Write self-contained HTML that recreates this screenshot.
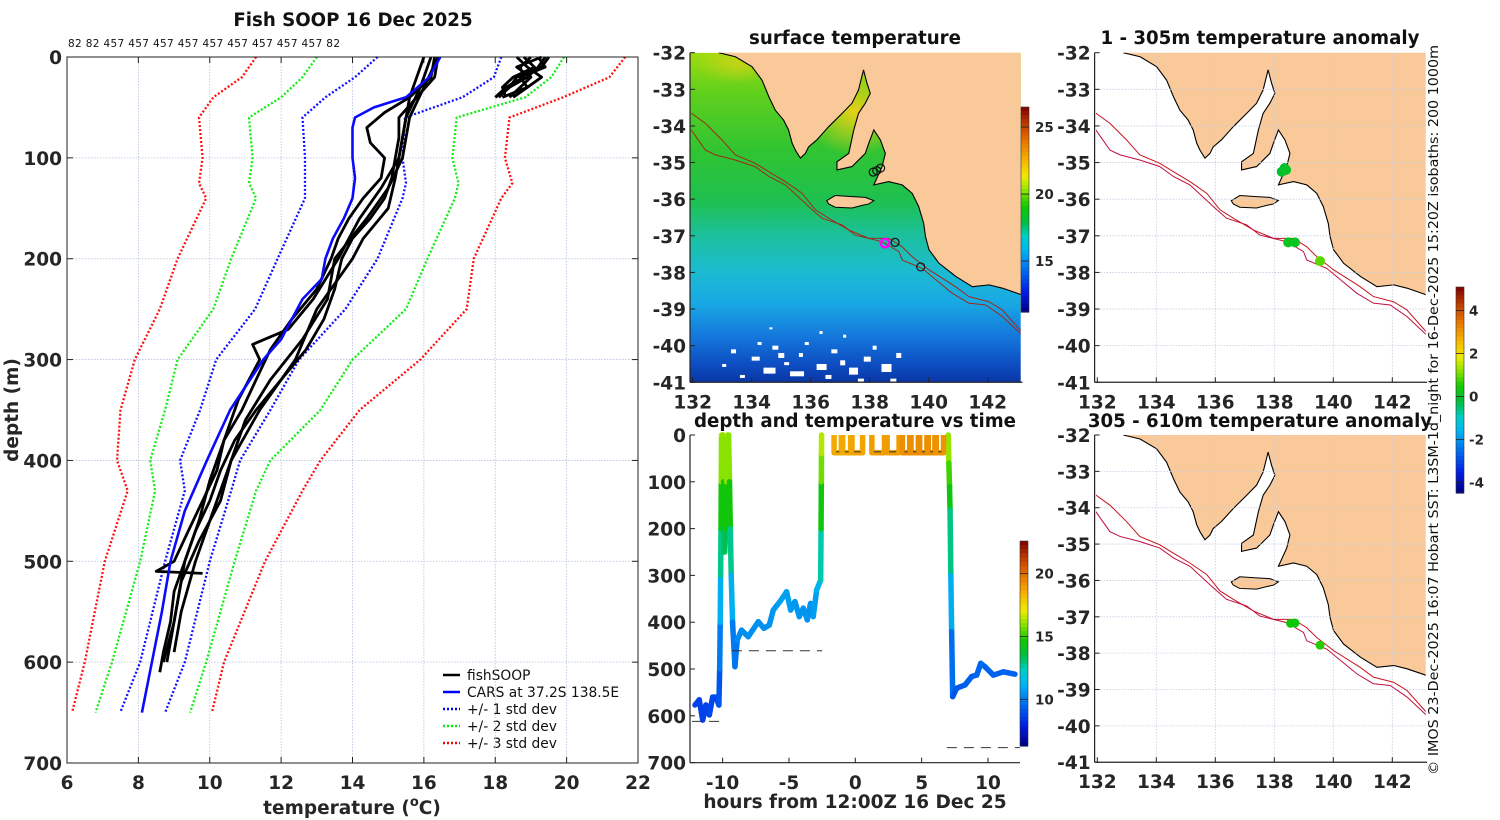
<!DOCTYPE html>
<html><head><meta charset="utf-8">
<style>
html,body{margin:0;padding:0;background:#fff;}
svg{display:block;font-family:"DejaVu Sans","Liberation Sans",sans-serif;}
.tk{font-weight:bold;font-size:18.5px;fill:#262626;}
.tt{font-weight:bold;font-size:18.2px;fill:#111;}
.cb{font-weight:bold;font-size:13.5px;fill:#262626;}
.lg{font-size:13.8px;fill:#111;}
</style></head>
<body>
<svg id="fig" width="1500" height="820" viewBox="0 0 1500 820">
<defs>
<linearGradient id="sstGrad" x1="0" y1="0" x2="0" y2="1">
<stop offset="0" stop-color="#a0dc10"/><stop offset="0.12" stop-color="#60d01c"/>
<stop offset="0.3" stop-color="#30c432"/><stop offset="0.45" stop-color="#1ec050"/>
<stop offset="0.55" stop-color="#1cc09a"/><stop offset="0.66" stop-color="#1cbcd0"/>
<stop offset="0.76" stop-color="#18a8e4"/><stop offset="0.86" stop-color="#1478dc"/>
<stop offset="0.94" stop-color="#0e50c4"/><stop offset="1" stop-color="#0a36a6"/>
</linearGradient>
<radialGradient id="gulfGrad" cx="0.5" cy="0.5" r="0.5">
<stop offset="0" stop-color="#e8d018"/><stop offset="1" stop-color="#e8d018" stop-opacity="0"/>
</radialGradient>
<clipPath id="clip1"><rect x="690" y="52.7" width="330.7" height="329.6"/></clipPath>
<clipPath id="clip3"><rect x="1096" y="52.7" width="329.7" height="329.6"/></clipPath>
<clipPath id="clip4"><rect x="1096" y="435" width="329.7" height="327.3"/></clipPath>
</defs>
<text class="tt" x="353" y="26" text-anchor="middle">Fish SOOP 16 Dec 2025</text>
<text x="68" y="47" font-size="10.5" fill="#111" textLength="272">82 82 457 457 457 457 457 457 457 457 457 82</text>
<text class="tt" x="855" y="44" text-anchor="middle">surface temperature</text>
<text class="tt" x="1260" y="44" text-anchor="middle">1 - 305m temperature anomaly</text>
<text class="tt" x="855" y="427" text-anchor="middle">depth and temperature vs time</text>
<text class="tt" x="1260" y="427" text-anchor="middle">305 - 610m temperature anomaly</text>
<text class="tk" x="352" y="814" text-anchor="middle">temperature (<tspan font-size="13" dy="-8">o</tspan><tspan dy="8">C)</tspan></text>
<text class="tk" x="18" y="410" text-anchor="middle" transform="rotate(-90 18 410)">depth (m)</text>
<text class="tk" x="855" y="808" text-anchor="middle">hours from 12:00Z 16 Dec 25</text>
<text x="1438" y="410" font-size="13" fill="#111" text-anchor="middle" textLength="730" lengthAdjust="spacingAndGlyphs" transform="rotate(-90 1438 410)">© IMOS 23-Dec-2025 16:07 Hobart SST: L3SM-1d_night for 16-Dec-2025 15:20Z isobaths: 200  1000m</text>
<g id="legend">
<line x1="443" y1="675" x2="460" y2="675" stroke="#000" stroke-width="2.5"/>
<text class="lg" x="467" y="680">fishSOOP</text>
<line x1="443" y1="692" x2="460" y2="692" stroke="#0000ff" stroke-width="2.5"/>
<text class="lg" x="467" y="697">CARS at 37.2S 138.5E</text>
<line x1="443" y1="709" x2="460" y2="709" stroke="#0000ff" stroke-width="2.5" stroke-dasharray="2,2"/>
<text class="lg" x="467" y="714">+/- 1 std dev</text>
<line x1="443" y1="726" x2="460" y2="726" stroke="#00ee00" stroke-width="2.5" stroke-dasharray="2,2"/>
<text class="lg" x="467" y="731">+/- 2 std dev</text>
<line x1="443" y1="743" x2="460" y2="743" stroke="#ff0000" stroke-width="2.5" stroke-dasharray="2,2"/>
<text class="lg" x="467" y="748">+/- 3 std dev</text>
</g>
</svg>
<script>
// ---------- profile data ----------
const stdDepths = [0,20,40,60,100,125,140,200,250,300,350,400,430,500,600,650];
const red1Lo  = [11.3,10.9,10.1,9.7,9.8,9.7,9.9,9.1,8.6,7.9,7.5,7.4,7.7,7.06,6.5,6.14];
const green2Lo= [13.0,12.6,12.0,11.1,11.2,11.1,11.3,10.6,10.1,9.1,8.75,8.33,8.47,8.05,7.26,6.8];
const blue1Lo = [14.7,14.07,13.24,12.6,12.67,12.67,12.67,11.9,11.27,10.18,9.73,9.17,9.3,8.75,8.05,7.49];
const blue1Hi = [18.17,17.96,17.08,15.47,15.4,15.5,15.4,14.7,13.8,12.5,11.7,10.85,10.6,10.0,9.3,8.75];
const green2Hi= [19.93,19.57,18.84,16.92,16.8,16.97,16.87,16.1,15.5,14.0,13.1,11.7,11.3,10.7,9.9,9.45];
const red3Hi  = [21.64,21.2,19.9,18.4,18.27,18.48,18.17,17.4,17.2,15.9,14.2,13.1,12.6,11.55,10.4,10.06];
const carsDepths = [0,20,40,50,60,70,100,120,140,160,180,200,220,240,260,280,300,350,400,450,500,550,600,650];
const carsTemps  = [16.46,16.15,15.5,14.6,14.07,14.0,14.0,14.07,14.0,13.76,13.45,13.24,13.14,12.6,12.3,12.0,11.5,10.57,9.92,9.3,8.9,8.66,8.38,8.1];
const fishDepths1 = [0,20,40,60,80,100,120,140,160,180,200,230,260,290,320,350,380,410,440,470,500,530,560,590,610];
const fishTemps1  = [16.4,16.3,15.8,15.3,15.3,15.2,15.1,14.9,14.5,14.0,13.7,13.5,13.2,12.7,12.0,11.3,10.7,10.3,10.0,9.6,9.3,9.0,8.9,8.7,8.6];
const fishDepths2 = [0,20,40,55,70,85,100,120,140,160,180,200,230,260,290,320,350,380,410,440,470,500,510,512];
const fishTemps2  = [16.3,16.2,15.6,14.9,14.4,14.5,14.9,14.8,14.3,13.9,13.6,13.4,13.0,12.3,11.7,11.3,10.9,10.4,10.2,9.8,9.4,9.0,8.5,9.8];
const fishDepths3 = [0,30,60,100,130,160,200,240,270,285,300,340,380,420,460,500,540,580,600];
const fishTemps3  = [16.2,15.9,15.5,15.3,14.8,14.2,13.6,12.9,12.2,11.2,11.4,10.8,10.4,10.0,9.7,9.3,9.1,8.9,8.8];
const fishDepths4 = [0,30,60,100,130,160,200,240,280,320,360,400,440,480,520,560,600];
const fishTemps4  = [16.4,16.0,15.6,15.4,15.0,14.4,13.5,13.3,12.6,11.7,11.0,10.6,10.3,9.7,9.2,9.0,8.7];
const fishDepths5 = [0,40,80,120,150,180,200,250,300,350,400,450,500,550,590];
const fishTemps5  = [16.0,15.6,15.4,15.2,15.0,14.3,14.0,13.0,12.4,11.4,10.6,10.1,9.6,9.2,9.0];
const surfDepths = [0,10,20,30,40];
const surfTemps1 = [19.4,19.2,18.9,18.4,18.0];
const surfTemps2 = [19.0,18.7,18.8,18.3,18.0];
const surfTemps3 = [19.5,19.3,18.6,18.4,18.1];
const surfTemps4 = [18.8,19.1,18.5,18.2,18.3];
const surfTemps5 = [19.3,18.6,19.0,18.7,18.4];
const surfTemps6 = [18.6,18.9,19.3,18.9,18.5];
const surfTemps7 = [19.2,19.4,18.7,18.9,18.2];
const tempTicks = [6,8,10,12,14,16,18,20,22];
const depthTicks = [0,100,200,300,400,500,600,700];
// ---------- time panel data ----------
const trHours = [-12.08,-11.76,-11.5,-11.26,-11.0,-10.75,-10.5,-10.28,-10.22,-10.18,-10.15,-10.12,-10.1,-10.08,-9.98,-9.92,-9.9,-9.85,-9.75,-9.7,-9.62,-9.55,-9.48,-9.42,-9.35,-9.25,-9.07,-8.9,-8.57,-8.07,-7.31,-6.88,-6.48,-6.18,-5.68,-5.18,-4.87,-4.55,-4.22,-3.92,-3.62,-3.37,-3.17,-2.91,-2.61,-2.58,-2.56,-2.55,-2.54];
const trDepths= [577,566,609,577,598,560,560,577,500,400,300,200,100,0,0,100,200,250,200,100,0,0,100,200,300,400,495,438,417,431,399,413,406,374,356,335,374,356,388,370,395,360,388,331,310,200,100,40,0];
const trTemps = [8.8,8.8,8.6,8.8,8.7,8.9,8.9,8.8,9.5,10.4,11.8,13.8,15.3,16.6,16.6,15.3,13.8,12.8,13.8,15.3,16.6,16.6,15.3,13.8,11.8,10.4,9.5,10.2,10.4,10.3,10.5,10.4,10.4,10.6,10.7,10.9,10.6,10.7,10.4,10.6,10.4,10.6,10.4,11.0,11.3,13.8,15.2,16.2,16.6];
const tr2Hours = [7.0,7.05,7.1,7.14,7.2,7.26,7.34,7.64,8.27,8.77,9.15,9.45,9.77,10.4,11.16,12.03];
const tr2Depths= [0,60,110,160,300,420,559,541,534,516,513,488,495,513,506,511];
const tr2Temps = [16.5,15.6,14.8,14.0,11.8,10.3,9.1,9.2,9.3,9.4,9.4,9.6,9.5,9.4,9.4,9.4];
const yoStart = [-1.6,-0.95,-0.25,1.25,2.4,3.55,4.2,4.85,5.5,6.1];
const yoEnd   = [-1.05,-0.35,0.55,2.2,3.3,4.1,4.75,5.4,6.0,6.65];
const yoTemp  = [18.6,18.6,18.7,18.9,18.9,19.2,19.2,19.3,19.2,19.1];
const bottomDashHours = [[-12.3,-10.0],[-9.3,-2.5],[6.9,12.4]];
const bottomDashDepths = [612,461,668];
const timeTicks = [-10,-5,0,5,10];
// ---------- map data ----------
const latTicks = [-32,-33,-34,-35,-36,-37,-38,-39,-40,-41];
const lonTicks = [132,134,136,138,140,142];
const sstTicks = [25,20,15];
const tempTicks2 = [20,15,10];
const anomTicks = [4,2,0,-2,-4];
const circleLons = [138.12,138.24,138.37,138.86,139.73];
const circleLats = [-35.26,-35.22,-35.15,-37.18,-37.85];
const currentLon = 138.52, currentLat = -37.2;
const anomLons1 = [138.25,138.35,138.4,138.47,138.7,139.55];
const anomLats1 = [-35.25,-35.15,-35.2,-37.18,-37.18,-37.69];
const anomVals1 = [-0.1,-0.1,0.0,0.1,0.1,0.9];
const anomLons2 = [138.55,138.7,139.55];
const anomLats2 = [-37.18,-37.17,-37.78];
const anomVals2 = [0.4,0.3,0.6];

const NS='http://www.w3.org/2000/svg';
const svg=document.getElementById('fig');
function mk(tag,parent,attrs){const e=document.createElementNS(NS,tag);for(const k in attrs)e.setAttribute(k,attrs[k]);parent.appendChild(e);return e;}
const CM=[[0,0,0,128],[0.1,0,30,230],[0.22,0,120,240],[0.3,0,180,240],[0.37,0,205,200],[0.44,0,190,60],[0.52,20,200,0],[0.6,150,230,0],[0.66,240,235,0],[0.74,245,180,0],[0.84,230,110,0],[0.93,180,50,0],[1,128,0,0]];
function jet(x){x=Math.max(0,Math.min(1,x));for(let i=0;i<CM.length-1;i++){const a=CM[i],b=CM[i+1];if(x<=b[0]){const f=(x-a[0])/(b[0]-a[0]);return 'rgb('+[1,2,3].map(k=>Math.round(a[k]+(b[k]-a[k])*f)).join(',')+')';}}return 'rgb(128,0,0)';}

// ===== Profile panel =====
const PX0=67,PX1=638,PY0=57,PY1=763;
const px=t=>PX0+(t-6)*(PX1-PX0)/16;
const py=d=>PY0+d*(PY1-PY0)/700;
const gP=mk('g',svg,{});


tempTicks.forEach(t=>{
  if(t>6&&t<22){const l=mk('line',gP,{x1:px(t),x2:px(t),y1:PY0,y2:PY1,stroke:'#b4c0dc','stroke-width':0.8,'stroke-dasharray':'1.5,1.5'});
  
  }
  const tk=mk('text',gP,{x:px(t),y:PY1+26,'text-anchor':'middle',class:'tk'});tk.textContent=t;
  
  
  mk('line',gP,{x1:px(t),x2:px(t),y1:PY1,y2:PY1-6,stroke:'#222'});
  mk('line',gP,{x1:px(t),x2:px(t),y1:PY0,y2:PY0+6,stroke:'#222'});
});
depthTicks.forEach(d=>{
  if(d>0&&d<700){const l=mk('line',gP,{x1:PX0,x2:PX1,y1:py(d),y2:py(d),stroke:'#b4c0dc','stroke-width':0.8,'stroke-dasharray':'1.5,1.5'});
  
  }
  const tk=mk('text',gP,{x:PX0-5,y:py(d)+7,'text-anchor':'end',class:'tk'});tk.textContent=d;
  
  
  mk('line',gP,{x1:PX0,x2:PX0+6,y1:py(d),y2:py(d),stroke:'#222'});
  mk('line',gP,{x1:PX1,x2:PX1-6,y1:py(d),y2:py(d),stroke:'#222'});
});
function prof(depths,temps,color,w,dash,name){
  const pts=depths.map((d,i)=>px(temps[i]).toFixed(1)+','+py(d).toFixed(1)).join(' ');
  const a={points:pts,fill:'none',stroke:color,'stroke-width':w,'stroke-linejoin':'round'};
  if(dash)a['stroke-dasharray']=dash;
  const p=mk('polyline',gP,a);
  
  
}
prof(stdDepths,red1Lo,'#ff1010',2.3,'2,2','minus-3std-line');
prof(stdDepths,green2Lo,'#10ee10',2.3,'2,2','minus-2std-line');
prof(stdDepths,blue1Lo,'#1010ff',2.3,'2,2','minus-1std-line');
prof(stdDepths,blue1Hi,'#1010ff',2.3,'2,2','plus-1std-line');
prof(stdDepths,green2Hi,'#10ee10',2.3,'2,2','plus-2std-line');
prof(stdDepths,red3Hi,'#ff1010',2.3,'2,2','plus-3std-line');
prof(fishDepths1,fishTemps1,'#000',2.8,null,'fishsoop-profile');
prof(fishDepths2,fishTemps2,'#000',2.8,null,'fishsoop-profile');
prof(fishDepths3,fishTemps3,'#000',2.8,null,'fishsoop-profile');
prof(fishDepths4,fishTemps4,'#000',2.8,null,'fishsoop-profile');
prof(fishDepths5,fishTemps5,'#000',2.8,null,'fishsoop-profile');
[surfTemps1,surfTemps2,surfTemps3,surfTemps4,surfTemps5,surfTemps6,surfTemps7].forEach(s=>prof(surfDepths,s,'#000',2.8,null,'fishsoop-surface-profile'));
prof(carsDepths,carsTemps,'#0a0aff',2.6,null,'cars-profile');
const fr=mk('rect',gP,{x:PX0,y:PY0,width:PX1-PX0,height:PY1-PY0,fill:'none',stroke:'#222','stroke-width':1});



// ===== Maps =====
const coastLL=[[132.88,-32],[133.45,-32.11],[134.01,-32.38],[134.35,-32.75],[134.58,-33.2],[134.8,-33.57],[135.08,-33.84],[135.25,-34.11],[135.37,-34.47],[135.48,-34.66],[135.65,-34.88],[135.82,-34.75],[135.93,-34.57],[136.21,-34.38],[136.61,-34.02],[137.06,-33.66],[137.4,-33.38],[137.62,-33.02],[137.79,-32.47],[137.91,-32.84],[138.02,-33.11],[137.85,-33.38],[137.62,-33.66],[137.46,-34.11],[137.29,-34.75],[136.89,-34.98],[136.89,-35.2],[137.4,-35.11],[137.85,-34.75],[137.97,-34.47],[138.14,-34.11],[138.36,-34.38],[138.53,-34.75],[138.42,-35.11],[138.14,-35.61],[138.65,-35.52],[139.1,-35.61],[139.44,-35.84],[139.66,-36.2],[139.83,-36.66],[139.89,-37.02],[140.01,-37.38],[140.35,-37.75],[140.92,-38.11],[141.48,-38.39],[142.05,-38.34],[142.5,-38.43],[143.15,-38.61]];
const kiLL=[[136.54,-36.04],[136.83,-35.9],[137.4,-35.93],[137.85,-35.95],[138.14,-36.04],[137.97,-36.13],[137.74,-36.17],[137.4,-36.24],[136.83,-36.22],[136.61,-36.13]];
const iso1LL=[[131.95,-33.65],[132.43,-33.93],[132.99,-34.38],[133.44,-34.79],[134.12,-35.02],[134.58,-35.25],[135.14,-35.52],[135.71,-35.84],[136.16,-36.29],[136.61,-36.52],[137.29,-36.84],[137.97,-37.07],[138.65,-37.07],[139.1,-37.3],[139.44,-37.57],[140.01,-37.93],[140.91,-38.39],[141.36,-38.66],[142.04,-38.8],[142.49,-39.02],[143.15,-39.62]];
const iso2LL=[[131.95,-34.11],[132.43,-34.66],[132.77,-34.79],[133.44,-34.93],[134.12,-35.11],[134.58,-35.38],[135.14,-35.61],[135.93,-36.2],[136.38,-36.52],[137.06,-36.7],[137.51,-36.98],[138.42,-37.16],[138.99,-37.43],[139.1,-37.66],[139.78,-37.89],[140.8,-38.57],[141.36,-38.84],[141.93,-38.89],[142.49,-39.2],[143.15,-39.7]];
function makeMap(name,x0,y0,ky,clipId,sst){
  const kx=29.5;
  const X=l=>x0+(l-132)*kx, Y=a=>y0+(-32-a)*ky;
  const bot=y0+9*ky, right=x0+11.18*kx, left=x0-2.7;
  const g=mk('g',svg,{});
  
  
  const inner=mk('g',g,{'clip-path':'url(#'+clipId+')'});
  if(sst){
    const bg=mk('rect',inner,{x:left,y:y0,width:right-left,height:bot-y0,fill:'url(#sstGrad)'});
    
    
    mk('ellipse',inner,{cx:X(137.5),cy:Y(-33.6),rx:50,ry:45,fill:'url(#gulfGrad)'});
    mk('ellipse',inner,{cx:X(133.5),cy:Y(-32.3),rx:40,ry:20,fill:'url(#gulfGrad)',opacity:0.6});
    const speck=[[133.0,-40.5,4,3],[133.3,-40.1,5,4],[133.6,-40.8,5,3],[134.0,-40.3,8,4],[134.2,-39.9,4,3],[134.4,-40.6,12,6],[134.7,-40.0,6,4],[134.9,-40.2,6,5],[135.1,-40.45,5,3],[135.3,-40.7,14,5],[135.6,-40.2,4,4],[135.8,-39.9,4,3],[136.0,-41.0,8,3],[136.2,-40.5,10,6],[136.5,-40.8,6,4],[136.7,-40.1,6,4],[137.0,-40.4,5,5],[137.1,-39.7,3,3],[137.3,-40.6,9,7],[137.6,-40.9,6,3],[137.8,-40.3,7,5],[138.1,-40.0,4,4],[138.4,-40.5,10,8],[138.7,-40.9,6,3],[138.9,-40.2,5,5],[133.2,-41.0,6,3],[134.6,-39.5,3,2],[136.3,-39.6,3,3]];
    speck.forEach(s=>mk('rect',inner,{x:X(s[0]),y:Y(s[1]),width:s[2],height:s[3],fill:'#fff'}));
  }
  const landPts=coastLL.map(p=>X(p[0])+','+Y(p[1])).join(' ')+' '+(right+5)+','+(y0-5)+' '+X(132.88)+','+(y0-5);
  const land=mk('polygon',inner,{points:landPts,fill:'#f9c99a'});
  
  
  const coast=mk('polyline',inner,{points:coastLL.map(p=>X(p[0])+','+Y(p[1])).join(' '),fill:'none',stroke:'#000','stroke-width':1.1});
  
  
  const ki=mk('polygon',inner,{points:kiLL.map(p=>X(p[0])+','+Y(p[1])).join(' '),fill:'#f9c99a',stroke:'#000','stroke-width':1});
  
  
  if(!sst){
    latTicks.slice(1,9).forEach(a=>mk('line',inner,{x1:left,x2:right,y1:Y(a),y2:Y(a),stroke:'#c4cce0','stroke-width':0.8,'stroke-dasharray':'1.5,1.5'}));
    lonTicks.slice(1).forEach(l=>mk('line',inner,{x1:X(l),x2:X(l),y1:y0,y2:bot,stroke:'#c4cce0','stroke-width':0.8,'stroke-dasharray':'1.5,1.5'}));
  }
  const i1=mk('polyline',inner,{points:iso1LL.map(p=>X(p[0])+','+Y(p[1])).join(' '),fill:'none',stroke:sst?'#a02818':'#c8141e','stroke-width':1});
  
  
  const i2=mk('polyline',inner,{points:iso2LL.map(p=>X(p[0])+','+Y(p[1])).join(' '),fill:'none',stroke:sst?'#a02818':'#c01040','stroke-width':1});
  
  
  mk('line',g,{x1:left,x2:left,y1:y0,y2:bot,stroke:'#222','stroke-width':1.2});
  mk('line',g,{x1:left,x2:right,y1:bot,y2:bot,stroke:'#222','stroke-width':1.2});
  latTicks.forEach(a=>{
    mk('line',g,{x1:left,x2:left+5,y1:Y(a),y2:Y(a),stroke:'#222'});
    const t=mk('text',g,{x:left-4,y:Y(a)+7,'text-anchor':'end',class:'tk'});t.textContent=a;
    
    
  });
  lonTicks.forEach(l=>{
    mk('line',g,{x1:X(l),x2:X(l),y1:bot,y2:bot-5,stroke:'#222'});
    const t=mk('text',g,{x:X(l),y:bot+26,'text-anchor':'middle',class:'tk'});t.textContent=l;
    
    
  });
  return {g,inner,X,Y};
}
const m1=makeMap('sst-map',692.7,52.7,36.62,'clip1',true);
circleLons.forEach((l,i)=>{
  const c=mk('circle',m1.inner,{cx:m1.X(l),cy:m1.Y(circleLats[i]),r:4,fill:'none',stroke:'#111','stroke-width':1.2});
  
  
});
const cur=mk('circle',m1.inner,{cx:m1.X(currentLon),cy:m1.Y(currentLat),r:4.2,fill:'none',stroke:'#ff00ff','stroke-width':2.4});


const m3=makeMap('anomaly-map-shallow',1097.3,52.7,36.62,'clip3',false);
anomLons1.forEach((l,i)=>{
  const c=mk('circle',m3.inner,{cx:m3.X(l),cy:m3.Y(anomLats1[i]),r:5,fill:jet((anomVals1[i]+4.5)/9.6)});
  
  
});
const m4=makeMap('anomaly-map-deep',1097.3,435,36.36,'clip4',false);
anomLons2.forEach((l,i)=>{
  const c=mk('circle',m4.inner,{cx:m4.X(l),cy:m4.Y(anomLats2[i]),r:4.5,fill:jet((anomVals2[i]+4.5)/9.6)});
  
  
});

// ===== colorbars =====
function colorbar(name,x,y0,y1,vmin,vmax,ticks,labX){
  const g=mk('g',svg,{});
  
  
  const n=50,h=(y1-y0)/n;
  for(let i=0;i<n;i++){mk('rect',g,{x:x,y:y0+i*h,width:8,height:h+0.6,fill:jet(1-(i+0.5)/n)});}
  mk('rect',g,{x:x,y:y0,width:8,height:y1-y0,fill:'none',stroke:'#333','stroke-width':0.6});
  ticks.forEach(v=>{
    const yy=y1-(v-vmin)/(vmax-vmin)*(y1-y0);
    mk('line',g,{x1:x,x2:x+8,y1:yy,y2:yy,stroke:'#222','stroke-width':0.8});
    const t=mk('text',g,{x:labX,y:yy+5,class:'cb'});t.textContent=v;
    
    
  });
}
colorbar('sst-colorbar',1021,107,312,11.2,26.5,sstTicks,1035);
colorbar('time-colorbar',1020,541,746,6.3,22.6,tempTicks2,1035);
colorbar('anomaly-colorbar',1456,287,493,-4.5,5.1,anomTicks,1469);

// ===== time panel =====
const TX=h=>855.3+h*13.27, TY=d=>435+d*0.468;
const gT=mk('g',svg,{});


function trace(hs,ds,ts,name){
  for(let i=0;i<hs.length-1;i++){
    const s=mk('line',gT,{x1:TX(hs[i]),y1:TY(ds[i]),x2:TX(hs[i+1]),y2:TY(ds[i+1]),stroke:jet(((ts[i]+ts[i+1])/2-6.3)/16.3),'stroke-width':5.5,'stroke-linecap':'round'});
    
    
  }
}
trace(trHours,trDepths,trTemps,'dive-trace-segment');
trace(tr2Hours,tr2Depths,tr2Temps,'dive-trace-segment');
yoStart.forEach((s,i)=>{
  const e=yoEnd[i];
  const p=mk('polyline',gT,{points:[TX(s)+','+TY(0),TX(s)+','+TY(38),TX(e)+','+TY(38),TX(e)+','+TY(0)].join(' '),fill:'none',stroke:jet((yoTemp[i]-6.3)/16.3),'stroke-width':5.5,'stroke-linejoin':'round'});
  
  
  const dl=mk('line',gT,{x1:TX(s)+2,x2:TX(e)-2,y1:TY(36),y2:TY(36),stroke:'#333','stroke-width':1,'stroke-dasharray':'7,5'});
  
  
});
bottomDashHours.forEach((r,i)=>{
  const l=mk('line',gT,{x1:TX(r[0]),x2:TX(r[1]),y1:TY(bottomDashDepths[i]),y2:TY(bottomDashDepths[i]),stroke:'#333','stroke-width':1,'stroke-dasharray':'10,7'});
  
  
});
mk('line',gT,{x1:690,x2:690,y1:435,y2:762.7,stroke:'#222','stroke-width':1.2});
mk('line',gT,{x1:690,x2:1020,y1:762.7,y2:762.7,stroke:'#222','stroke-width':1.2});
depthTicks.forEach(d=>{
  mk('line',gT,{x1:690,x2:695,y1:TY(d),y2:TY(d),stroke:'#222'});
  const t=mk('text',gT,{x:686,y:TY(d)+7,'text-anchor':'end',class:'tk'});t.textContent=d;
  
  
});
timeTicks.forEach(h=>{
  mk('line',gT,{x1:TX(h),x2:TX(h),y1:762.7,y2:757.7,stroke:'#222'});
  const t=mk('text',gT,{x:TX(h),y:789,'text-anchor':'middle',class:'tk'});t.textContent=h;
  
  
});
</script>
</body></html>
